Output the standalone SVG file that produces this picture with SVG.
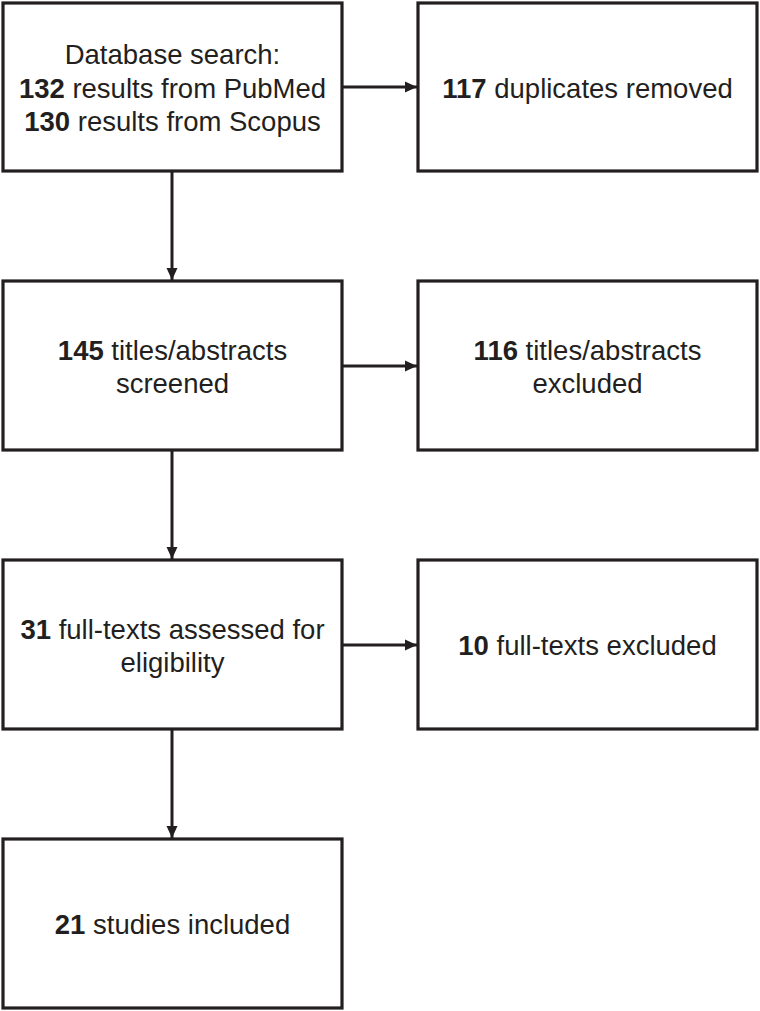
<svg xmlns="http://www.w3.org/2000/svg" width="760" height="1011" viewBox="0 0 760 1011">
  <style>
    .box { fill: #ffffff; stroke: #231f20; stroke-width: 3.2; }
    .t { font-family: "Liberation Sans", Arial, sans-serif; font-size: 27.5px; fill: #231f20; text-anchor: middle; }
    .b { font-weight: bold; }
    .conn { stroke: #231f20; stroke-width: 3; fill: none; }
  </style>
  <defs>
    <marker id="ah" markerUnits="userSpaceOnUse" markerWidth="14" markerHeight="14" refX="12" refY="6" orient="auto">
      <path d="M0,0.5 L12,6 L0,11.5 Z" fill="#231f20"/>
    </marker>
  </defs>
  <rect width="760" height="1011" fill="#ffffff"/>

  <g id="connectors">
    <line class="conn" x1="342" y1="87" x2="417" y2="87" marker-end="url(#ah)"/>
    <line class="conn" x1="172" y1="171" x2="172" y2="280" marker-end="url(#ah)"/>
    <line class="conn" x1="342" y1="366" x2="417" y2="366" marker-end="url(#ah)"/>
    <line class="conn" x1="172" y1="450" x2="172" y2="559" marker-end="url(#ah)"/>
    <line class="conn" x1="342" y1="645" x2="417" y2="645" marker-end="url(#ah)"/>
    <line class="conn" x1="172" y1="729" x2="172" y2="838" marker-end="url(#ah)"/>
  </g>

  <g id="n-search">
    <rect class="box" x="3" y="3" width="339" height="168"/>
    <text class="t" x="172.5" y="64">Database search:</text>
    <text class="t" x="172.5" y="98"><tspan class="b">132</tspan> results from PubMed</text>
    <text class="t" x="172.5" y="131"><tspan class="b">130</tspan> results from Scopus</text>
  </g>
  <g id="n-duplicates">
    <rect class="box" x="418" y="3" width="339" height="168"/>
    <text class="t" x="587.5" y="98"><tspan class="b">117</tspan> duplicates removed</text>
  </g>
  <g id="n-screened">
    <rect class="box" x="3" y="281" width="339" height="169"/>
    <text class="t" x="172.5" y="360"><tspan class="b">145</tspan> titles/abstracts</text>
    <text class="t" x="172.5" y="393">screened</text>
  </g>
  <g id="n-excluded1">
    <rect class="box" x="418" y="281" width="339" height="169"/>
    <text class="t" x="587.5" y="360"><tspan class="b">116</tspan> titles/abstracts</text>
    <text class="t" x="587.5" y="393">excluded</text>
  </g>
  <g id="n-fulltexts">
    <rect class="box" x="3" y="560" width="339" height="169"/>
    <text class="t" x="172.5" y="639"><tspan class="b">31</tspan> full-texts assessed for</text>
    <text class="t" x="172.5" y="672">eligibility</text>
  </g>
  <g id="n-excluded2">
    <rect class="box" x="418" y="560" width="339" height="169"/>
    <text class="t" x="587.5" y="655"><tspan class="b">10</tspan> full-texts excluded</text>
  </g>
  <g id="n-included">
    <rect class="box" x="3" y="839" width="339" height="169"/>
    <text class="t" x="172.5" y="934"><tspan class="b">21</tspan> studies included</text>
  </g>
</svg>
